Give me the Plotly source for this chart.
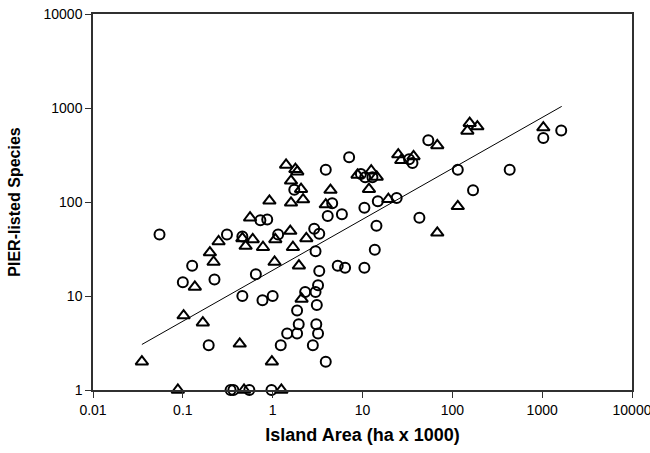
import plotly.graph_objects as go

# Circles (island area in ha x 1000, PIER-listed species)
circle_area = [0.055, 0.31, 0.46, 0.73, 0.87, 1.15, 2.9, 3.3, 4.6, 4.1, 5.9, 10.5, 14.8, 14.3, 13.7,
               3.0, 3.3, 5.3, 6.4, 10.5, 0.65, 0.127, 0.10, 0.225, 0.46, 0.77, 1.0, 2.3, 3.0, 3.2,
               3.1, 1.87, 1.95, 1.87, 1.45, 3.06, 3.2, 1.23, 2.8, 0.194, 3.9, 0.34, 0.365, 0.55, 0.97,
               7.1, 3.9, 1.74, 9.6, 10.7, 12.9, 24, 33, 36, 54, 115, 435, 170, 43, 1030, 1630]
circle_species = [45, 45, 43, 64, 65, 45, 52, 46, 97, 71, 74, 87, 102, 56, 31,
                  30, 18.5, 21, 20, 20, 17, 21, 14, 15, 10, 9, 10, 11, 11, 13,
                  8, 7, 5, 4, 4, 5, 4, 3, 3, 3, 2, 1, 1, 1, 1,
                  300, 220, 135, 199, 183, 183, 110, 285, 260, 455, 220, 220, 133, 68, 480, 575]

# Triangles
triangle_area = [1.41, 1.79, 1.88, 1.6, 2.07, 0.92, 1.6, 2.18, 4.4, 11.8, 3.9, 0.56, 0.25, 0.2, 0.22,
                 0.136, 0.46, 0.5, 0.6, 0.78, 1.07, 1.57, 1.68, 2.37, 1.05, 1.96, 0.102, 0.167, 2.1,
                 0.43, 0.035, 0.98, 0.088, 0.48, 1.25, 8.8, 12.5, 14.4, 19.4, 25, 27, 37, 68, 115,
                 68, 156, 147, 190, 1030]
triangle_species = [248, 223, 210, 168, 137, 103, 98, 106, 134, 137, 94, 68, 38, 29, 23,
                    12.5, 41, 34, 40, 33, 40, 49, 33, 41, 23, 21, 6.2, 5.2, 9.3,
                    3.1, 2, 2, 1, 1, 1, 194, 215, 185, 107, 320, 278, 305, 400, 90,
                    47, 690, 570, 635, 620]

# Fitted regression line (end points)
fit_area = [0.035, 1650]
fit_species = [3.05, 1040]

x_ticks = [0.01, 0.1, 1, 10, 100, 1000, 10000]
x_ticklabels = ["0.01", "0.1", "1", "10", "100", "1000", "10000"]
y_ticks = [1, 10, 100, 1000, 10000]
y_ticklabels = ["1", "10", "100", "1000", "10000"]

fig = go.Figure()
fig.add_trace(go.Scatter(x=fit_area, y=fit_species, mode="lines",
                         line=dict(color="black", width=1), showlegend=False, hoverinfo="skip",
                         cliponaxis=False))
fig.add_trace(go.Scatter(x=circle_area, y=circle_species, mode="markers",
                         marker=dict(symbol="circle-open", size=10, color="black",
                                     line=dict(width=2, color="black")),
                         showlegend=False, cliponaxis=False))
fig.add_trace(go.Scatter(x=triangle_area, y=triangle_species, mode="markers",
                         marker=dict(symbol="triangle-up-open", size=11, color="black",
                                     line=dict(width=2, color="black")),
                         showlegend=False, cliponaxis=False))

font_family = "Liberation Sans, Arial, sans-serif"
fig.update_layout(
    width=650, height=453, autosize=False,
    margin=dict(l=93, r=18, t=14, b=63, autoexpand=False),
    paper_bgcolor="white", plot_bgcolor="white",
    font=dict(family=font_family, color="black", size=12),
    xaxis=dict(type="log", range=[-2, 4], tickvals=x_ticks, ticktext=x_ticklabels,
               automargin=False, ticklabeloverflow="allow",
               showgrid=False, zeroline=False, showline=True, mirror=True,
               linecolor="#303030", linewidth=1.5, ticks="outside", ticklen=6,
               tickcolor="#303030", tickfont=dict(size=14, family=font_family),
               title=dict(text="<b>Island Area (ha x 1000)</b>", standoff=12,
                          font=dict(size=18, family=font_family))),
    yaxis=dict(type="log", range=[0, 4], tickvals=y_ticks, ticktext=y_ticklabels,
               automargin=False, ticklabeloverflow="allow",
               showgrid=False, zeroline=False, showline=True, mirror=True,
               linecolor="#303030", linewidth=1.5, ticks="outside", ticklen=6,
               tickcolor="#303030", tickfont=dict(size=14, family=font_family),
               title=dict(text="<b>PIER-listed Species</b>", standoff=19,
                          font=dict(size=16, family=font_family))),
)

fig.write_html("out.html", post_script="document.body.style.margin='0';",
               config={"displayModeBar": False})
